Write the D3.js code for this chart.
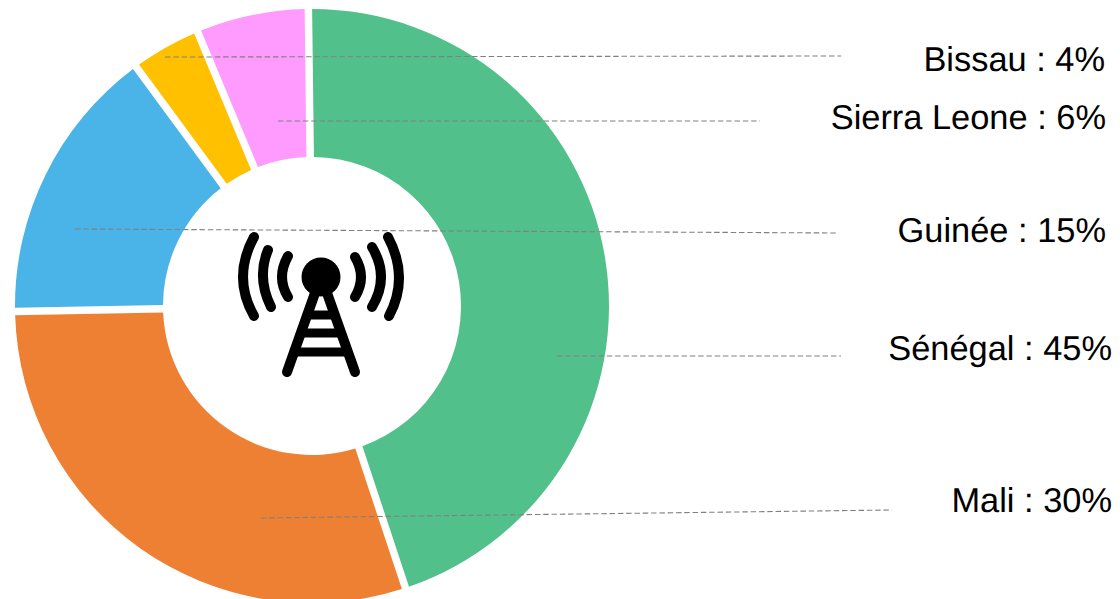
<!DOCTYPE html>
<html>
<head>
<meta charset="utf-8">
<script src="https://cdnjs.cloudflare.com/ajax/libs/d3/7.8.5/d3.min.js"></script>
<style>
  html, body { margin: 0; padding: 0; background: #fff; overflow: hidden; }
  text { font-family: "Liberation Sans", Arial, sans-serif; fill: #000; text-rendering: geometricPrecision; }
</style>
</head>
<body>
<div id="chart"></div>
<script>
// Chart data
const countries = ["Sénégal", "Mali", "Guinée", "Bissau", "Sierra Leone"];
const shares = [45, 30, 15, 4, 6];
// slice sizes as measured on the picture, a little off the printed shares
const sliceShares = [45.1, 29.8, 15.2, 3.8, 6.1];
const sliceColors = ["#52c08a", "#ee8033", "#4ab3e8", "#ffc000", "#ff9bff"];

// Layout
const width = 1120, height = 599;
const centerX = 312, centerY = 306, outerRadius = 297, innerRadius = 149;
const sliceGap = 7.5;
const startDegrees = -0.7;
const labelFontSize = 34.4;

// label anchor and leader line for each country
const labelEndX = [1112, 1112, 1106, 1105, 1106];
const labelBaseline = [359.5, 512, 242, 70.5, 129];
const leaderFrom = [[557, 356], [261, 518], [75, 229], [165, 57], [278, 121]];
const leaderTo = [[841, 356], [892, 510], [838, 233], [841, 56], [760, 121]];

// Tower icon: [start, through, end] of each wave
const iconWaves = [
    [[254, 237], [243, 277], [254, 316]],
    [[268, 250], [263, 278], [271, 307]],
    [[288, 256], [282, 277], [288, 297]],
    [[355, 257], [361, 277], [355, 297]],
    [[372, 247], [381, 277], [372, 307]],
    [[388, 237], [399, 277], [389, 316]]
];
const iconLegs = [[[287, 372], [315, 293]], [[355, 372], [327, 293]]];
const iconBars = [[[307, 315], [335, 315]], [[301, 333], [341, 333]], [[295, 352], [347, 352]]];

const svg = d3.select("#chart").append("svg")
    .attr("width", width)
    .attr("height", height);

// Donut
const startAngle = startDegrees * Math.PI / 180;
const pie = d3.pie().sort(null).value(d => d)
    .startAngle(startAngle)
    .endAngle(startAngle + 2 * Math.PI);
const arc = d3.arc()
    .innerRadius(innerRadius)
    .outerRadius(outerRadius)
    .padRadius(outerRadius)
    .padAngle(sliceGap / outerRadius);

svg.append("g")
    .attr("transform", "translate(" + centerX + "," + centerY + ")")
    .selectAll("path").data(pie(sliceShares)).enter().append("path")
    .attr("d", arc)
    .attr("fill", (d, i) => sliceColors[i]);

// Tower icon
const icon = svg.append("g")
    .attr("fill", "none")
    .attr("stroke", "#000")
    .attr("stroke-linecap", "round");

iconWaves.forEach(w => {
    const p = d3.path();
    p.moveTo(w[0][0], w[0][1]);
    p.quadraticCurveTo(
        2 * w[1][0] - (w[0][0] + w[2][0]) / 2,
        2 * w[1][1] - (w[0][1] + w[2][1]) / 2,
        w[2][0], w[2][1]);
    icon.append("path").attr("d", p.toString()).attr("stroke-width", 10);
});

const segment = d3.line();
iconLegs.forEach(s => icon.append("path").attr("d", segment(s)).attr("stroke-width", 10));
iconBars.forEach(s => icon.append("path").attr("d", segment(s))
    .attr("stroke-width", 9).attr("stroke-linecap", "butt"));

icon.append("circle")
    .attr("cx", 321).attr("cy", 277).attr("r", 19.5)
    .attr("fill", "#000").attr("stroke", "none");

// Leader lines
svg.append("g").selectAll("line").data(countries).enter().append("line")
    .attr("x1", (d, i) => leaderFrom[i][0])
    .attr("y1", (d, i) => leaderFrom[i][1])
    .attr("x2", (d, i) => leaderTo[i][0])
    .attr("y2", (d, i) => leaderTo[i][1])
    .attr("stroke", "#808080")
    .attr("stroke-width", 1.1)
    .attr("stroke-dasharray", "5.5 2.8");

// Labels
svg.append("g").selectAll("text").data(countries).enter().append("text")
    .attr("x", (d, i) => labelEndX[i])
    .attr("y", (d, i) => labelBaseline[i])
    .attr("text-anchor", "end")
    .style("font-size", labelFontSize + "px")
    .text((d, i) => d + " : " + shares[i] + "%");
</script>
</body>
</html>
